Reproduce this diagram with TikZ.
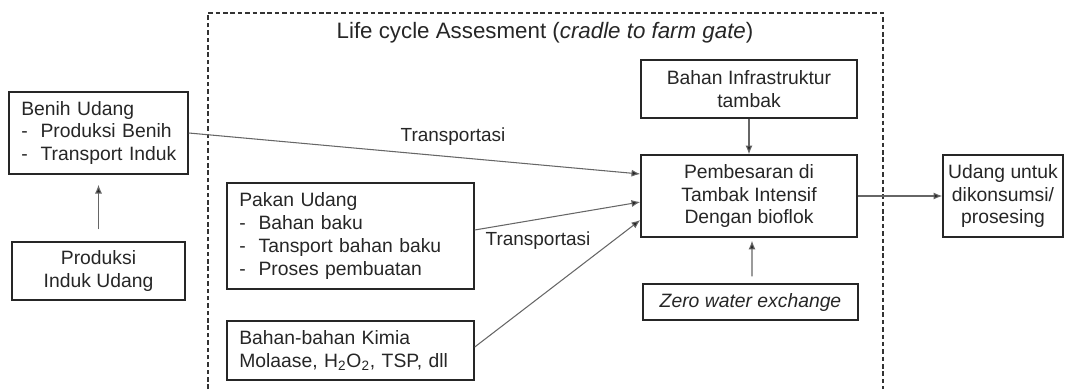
\documentclass[tikz,border=0pt]{standalone}
\usepackage{fontspec}
\setmainfont{Liberation Sans}
\usetikzlibrary{arrows.meta,calc}
\newcommand{\PX}{0.02cm}

\tikzset{
  box/.style={draw=black!85, line width=0.8pt, inner sep=0pt, align=center,
    font=\fontsize{11}{13}\selectfont, text=black!85},
  leftbox/.style={box, align=left, inner xsep=7pt},
  flow/.style={draw=black!60, line width=0.6pt, -{Latex[length=5pt,width=4pt,fill=black!85]}},
  lbl/.style={font=\fontsize{10.8}{13}\selectfont, text=black!85}
}

\begin{document}
\begin{tikzpicture}[x=\PX, y=-\PX]

\useasboundingbox (0,0) rectangle (1065,389);

% system boundary
\draw [black!80, line width=0.9pt, dash pattern=on 2.6pt off 1.6pt]
  (208,389) -- (208,13) -- (883,13) -- (883,389);
\node[lbl, font=\fontsize{12.7}{15}\selectfont] (title) at (545,33)
  {Life cycle Assesment (\textit{cradle to farm gate})};

% inputs
\node[leftbox, text width=3.09cm, minimum height=82*\PX] (benih) at (98.5,133)
  {\mbox{Benih Udang}\\
   \makebox[11pt][l]{-}\mbox{Produksi Benih}\\
   \makebox[11pt][l]{-}\mbox{Transport Induk}};
\node[box, minimum width=173*\PX, minimum height=58*\PX] (induk) at (98.5,271)
  {Produksi\\Induk Udang};
\node[leftbox, text width=4.45cm, minimum height=106*\PX] (pakan) at (350.5,236)
  {Pakan Udang\\
   \makebox[11pt][l]{-}Bahan baku\\
   \makebox[11pt][l]{-}\mbox{Tansport bahan baku}\\
   \makebox[11pt][l]{-}Proses pembuatan};
\node[leftbox, text width=4.45cm, minimum height=59*\PX] (kimia) at (350.5,350.5)
  {Bahan-bahan Kimia\\
   \mbox{Molaase, H\textsubscript{2}O\textsubscript{2}, TSP, dll}};
\node[box, minimum width=216*\PX, minimum height=58*\PX] (infra) at (749,89)
  {Bahan Infrastruktur\\tambak};
\node[box, minimum width=216*\PX, minimum height=82*\PX] (pemb) at (749,196)
  {Pembesaran di\\Tambak Intensif\\Dengan bioflok};
\node[box, minimum width=215*\PX, minimum height=36*\PX] (zero) at (750.5,302)
  {\textit{Zero water exchange}};
\node[box, minimum width=120*\PX, minimum height=82*\PX] (udang) at (1003,196)
  {Udang untuk\\dikonsumsi/\\prosesing};

% labels
\node[lbl] (trans1) at (453,137) {Transportasi};
\node[lbl] (trans2) at (538,241) {Transportasi};

% connectors
\draw[flow, shorten <=6.8pt, shorten >=5.7pt] (induk.north) -- (benih.south);
\draw[flow] (benih.east) -- ($(pemb.west)+(0,-22)$);
\draw[flow] ($(pakan.east)+(0,-6)$) -- ($(pemb.west)+(0,6)$);
\draw[flow] ($(kimia.east)+(0,-3.5)$) -- ($(pemb.west)+(0,24)$);
\draw[flow] (infra.south) -- (pemb.north);
\draw[flow, shorten <=4pt, shorten >=1.7pt] ($(zero.north)+(1.5,0)$) -- ($(pemb.south)+(3,0)$);
\draw[flow] (pemb.east) -- (udang.west);

\end{tikzpicture}
\end{document}
